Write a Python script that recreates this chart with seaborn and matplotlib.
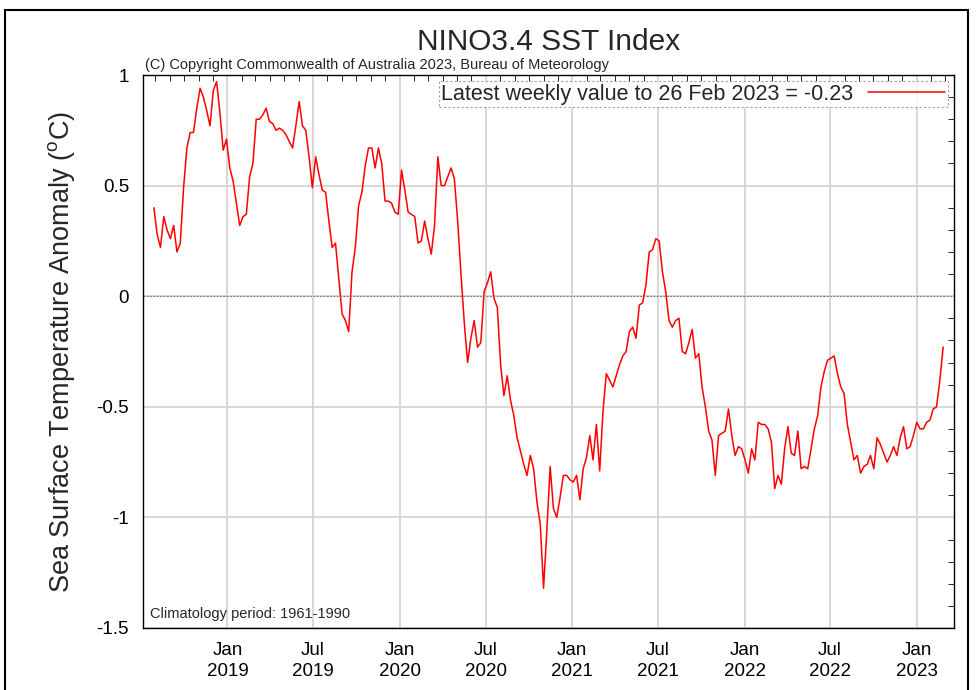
import numpy as np
import pandas as pd
import matplotlib
matplotlib.use("Agg")
import matplotlib.pyplot as plt
import matplotlib.dates as mdates
from matplotlib import font_manager
from matplotlib.patches import Rectangle
import seaborn as sns

# weekly NINO3.4 anomaly, first week 29 Jul 2018, last week 26 Feb 2023
start_week = "2018-07-29"
anomaly = [
    0.40, 0.28, 0.22, 0.36, 0.30, 0.26, 0.32, 0.20, 0.24, 0.49,
    0.67, 0.74, 0.74, 0.85, 0.94, 0.90, 0.84, 0.77, 0.93, 0.97,
    0.83, 0.66, 0.71, 0.58, 0.52, 0.42, 0.32, 0.36, 0.37, 0.54,
    0.60, 0.80, 0.80, 0.82, 0.85, 0.79, 0.78, 0.75, 0.76, 0.75,
    0.73, 0.70, 0.67, 0.77, 0.88, 0.77, 0.75, 0.63, 0.49, 0.63,
    0.55, 0.48, 0.47, 0.34, 0.22, 0.24, 0.08, -0.08, -0.11, -0.16,
    0.11, 0.22, 0.41, 0.47, 0.59, 0.67, 0.67, 0.58, 0.67, 0.60,
    0.43, 0.43, 0.42, 0.38, 0.37, 0.57, 0.48, 0.38, 0.37, 0.36,
    0.24, 0.25, 0.34, 0.26, 0.19, 0.32, 0.63, 0.50, 0.50, 0.54,
    0.58, 0.53, 0.34, 0.10, -0.12, -0.30, -0.19, -0.11, -0.23, -0.21,
    0.02, 0.06, 0.11, -0.01, -0.05, -0.31, -0.45, -0.36, -0.47, -0.54,
    -0.64, -0.70, -0.76, -0.81, -0.72, -0.78, -0.93, -1.03, -1.32, -1.06,
    -0.77, -0.96, -1.00, -0.91, -0.81, -0.81, -0.83, -0.84, -0.81, -0.92,
    -0.78, -0.73, -0.63, -0.74, -0.58, -0.79, -0.52, -0.35, -0.38, -0.41,
    -0.36, -0.31, -0.27, -0.25, -0.16, -0.14, -0.19, -0.04, -0.03, 0.05,
    0.20, 0.21, 0.26, 0.25, 0.11, 0.02, -0.11, -0.14, -0.11, -0.10,
    -0.25, -0.26, -0.21, -0.15, -0.28, -0.26, -0.41, -0.50, -0.61, -0.65,
    -0.81, -0.63, -0.62, -0.61, -0.51, -0.63, -0.72, -0.68, -0.69, -0.74,
    -0.80, -0.69, -0.74, -0.57, -0.58, -0.58, -0.60, -0.66, -0.87, -0.81,
    -0.85, -0.69, -0.59, -0.71, -0.72, -0.61, -0.78, -0.77, -0.78, -0.69,
    -0.60, -0.54, -0.41, -0.34, -0.29, -0.28, -0.27, -0.35, -0.41, -0.44,
    -0.58, -0.66, -0.74, -0.72, -0.80, -0.77, -0.76, -0.72, -0.78, -0.64,
    -0.67, -0.71, -0.75, -0.72, -0.68, -0.72, -0.64, -0.59, -0.69, -0.68,
    -0.63, -0.57, -0.60, -0.60, -0.57, -0.56, -0.51, -0.50, -0.38, -0.23,
]
y_ticks = [1, 0.5, 0, -0.5, -1, -1.5]
y_tick_labels = ["1", "0.5", "0", "-0.5", "-1", "-1.5"]

dates = pd.date_range(start_week, periods=len(anomaly), freq="7D")
df = pd.DataFrame({"date": dates, "anomaly": anomaly})
latest = df.iloc[-1]

sns.set_style("white")
names = {f.name for f in font_manager.fontManager.ttflist}
fam = "Liberation Sans Narrow" if "Liberation Sans Narrow" in names else "Liberation Sans"
plt.rcParams["font.family"] = [fam, "DejaVu Sans"]
plt.rcParams["mathtext.fontset"] = "custom"
plt.rcParams["mathtext.rm"] = fam

W, H = 979, 690
fig = plt.figure(figsize=(W / 100, H / 100), dpi=100)
ax = fig.add_axes([143 / W, 1 - 628 / H, (954 - 143) / W, (628 - 75) / H])

label = f"Latest weekly value to {latest['date']:%d %b %Y} = {latest['anomaly']:.2f}"
sns.lineplot(data=df, x="date", y="anomaly", color="#ff0000", lw=1.1, ax=ax, label=label)

ax.set_xlim(pd.Timestamp("2018-07-06"), pd.Timestamp("2023-03-21"))
ax.set_ylim(-1.5, 1)
ax.xaxis.set_major_locator(mdates.MonthLocator(bymonth=[1, 7]))
ax.xaxis.set_major_formatter(mdates.DateFormatter("%b\n%Y"))
ax.xaxis.set_minor_locator(mdates.MonthLocator())
ax.set_yticks(y_ticks)
ax.set_yticklabels(y_tick_labels)
ax.set_yticks(np.arange(-1.5, 1.01, 0.1), minor=True)

ax.grid(which="major", color="#d4d4d4", lw=1.3)
ax.axhline(0, color="#777777", lw=0.8, ls=(0, (1.5, 1.5)))
ax.tick_params(which="both", direction="in", top=True, right=True,
               labelsize=13.5, colors="black")
ax.tick_params(which="major", length=0, pad=10)
ax.tick_params(which="minor", length=4, width=0.6)
for t in ax.get_xticklabels():
    t.set_linespacing(1.3)
for s in ax.spines.values():
    s.set_color("black")
    s.set_linewidth(1)

ax.set_xlabel("")
ax.set_ylabel("Sea Surface Temperature Anomaly ($^{\\rm o}$C)", fontsize=19.5, labelpad=14)

leg = ax.legend(loc="upper right", markerfirst=False, fontsize=15.5, frameon=True,
                fancybox=False, borderaxespad=0.3, handlelength=3.6,
                borderpad=0.1, handletextpad=0.7)
leg.get_frame().set_edgecolor("#888888")
leg.get_frame().set_linestyle((0, (2, 2)))
leg.get_frame().set_linewidth(0.8)

ax.text(0.009, 0.012, "Climatology period: 1961-1990", transform=ax.transAxes,
        fontsize=10.5, ha="left", va="bottom")
fig.text(549 / W, 1 - 42 / H, "NINO3.4 SST Index", ha="center", va="center", fontsize=21.5)
fig.text(145 / W, 1 - 72 / H, "(C) Copyright Commonwealth of Australia 2023, Bureau of Meteorology",
         ha="left", va="bottom", fontsize=10.5)

# outer frame of the picture
fig.patches.append(Rectangle((5 / W, -0.05), (968 - 5) / W, 1.05 - 10 / H,
                             transform=fig.transFigure, fill=False,
                             edgecolor="black", lw=1.5))

fig.savefig("out.png", dpi=100)
